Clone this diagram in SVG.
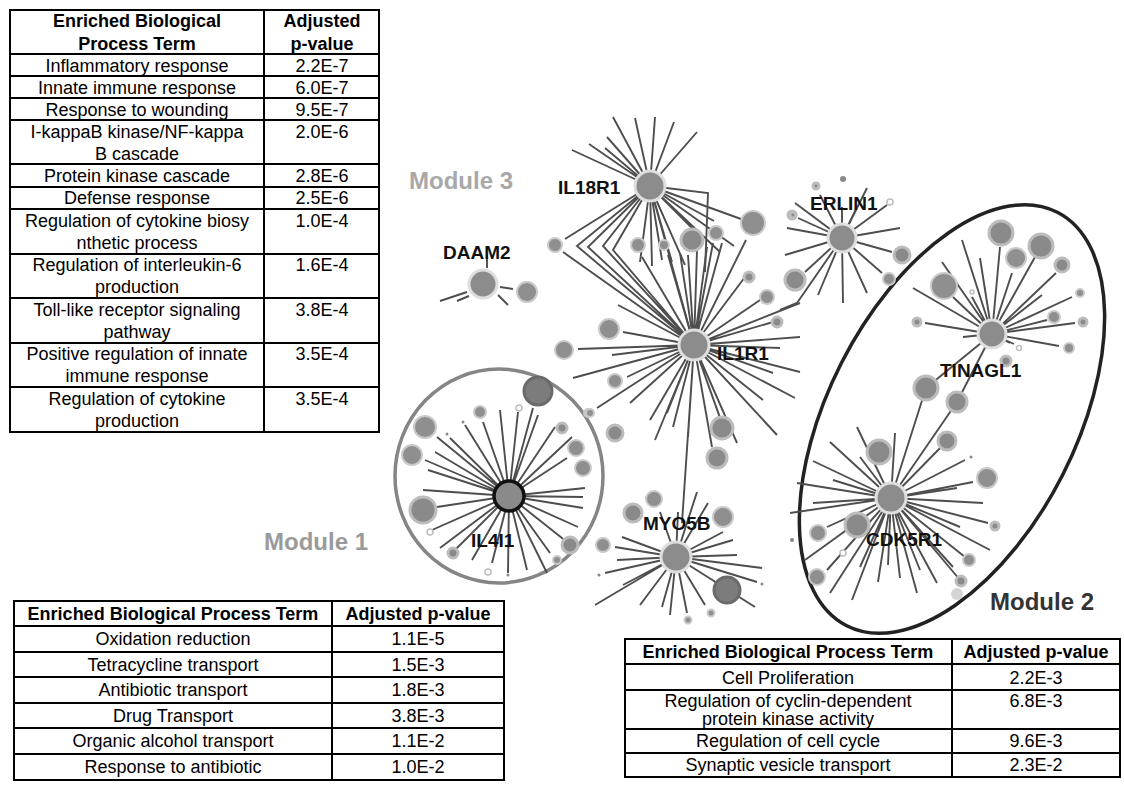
<svg xmlns="http://www.w3.org/2000/svg" width="1124" height="795" viewBox="0 0 1124 795">
<style>
.t{font-family:"Liberation Sans",Arial,sans-serif;font-size:18px;text-anchor:middle;fill:#000}
.tb{font-weight:bold}
.tab{fill:none;stroke:#000;stroke-width:2}
.e{fill:none;stroke:#4e4e4e;stroke-width:1.9}
.hub{fill:#8c8c8c;stroke:#dedede;stroke-width:3}
.s{fill:#8f8f8f;stroke:#cacaca;stroke-width:2}
.s2{fill:#8a8a8a;stroke:#bcbcbc;stroke-width:3}
.sd{fill:#7c7c7c;stroke:#6a6a6a;stroke-width:3}
.ho{fill:#fff;stroke:#bdbdbd;stroke-width:1.5}
.dt{fill:#888}
.lbl{font-family:"Liberation Sans",Arial,sans-serif;font-size:19px;font-weight:bold;fill:#111}
.mod{font-family:"Liberation Sans",Arial,sans-serif;font-size:24px;font-weight:bold}
</style>
<rect width="1124" height="795" fill="#fff"/>

<!-- Table 1 (Module 3) -->
<g id="table-module3">
<rect class="tab" x="10" y="10" width="369" height="422"/>
<path class="tab" d="M264,10V432 M10,54H379 M10,76H379 M10,98H379 M10,120H379 M10,164H379 M10,187H379 M10,209H379 M10,254H379 M10,298H379 M10,343H379 M10,387H379"/>
<text class="t tb" x="137" y="27">Enriched Biological</text>
<text class="t tb" x="137" y="50">Process Term</text>
<text class="t tb" x="322" y="27">Adjusted</text>
<text class="t tb" x="322" y="50">p-value</text>
<text class="t" x="137" y="72">Inflammatory response</text><text class="t" x="322" y="72">2.2E-7</text>
<text class="t" x="137" y="94">Innate immune response</text><text class="t" x="322" y="94">6.0E-7</text>
<text class="t" x="137" y="116">Response to wounding</text><text class="t" x="322" y="116">9.5E-7</text>
<text class="t" x="137" y="138">I-kappaB kinase/NF-kappa</text><text class="t" x="137" y="160">B cascade</text><text class="t" x="322" y="138">2.0E-6</text>
<text class="t" x="137" y="182">Protein kinase cascade</text><text class="t" x="322" y="182">2.8E-6</text>
<text class="t" x="137" y="204">Defense response</text><text class="t" x="322" y="204">2.5E-6</text>
<text class="t" x="137" y="227">Regulation of cytokine biosy</text><text class="t" x="137" y="249">nthetic process</text><text class="t" x="322" y="227">1.0E-4</text>
<text class="t" x="137" y="271">Regulation of interleukin-6</text><text class="t" x="137" y="293">production</text><text class="t" x="322" y="271">1.6E-4</text>
<text class="t" x="137" y="316">Toll-like receptor signaling</text><text class="t" x="137" y="338">pathway</text><text class="t" x="322" y="316">3.8E-4</text>
<text class="t" x="137" y="360">Positive regulation of innate</text><text class="t" x="137" y="382">immune response</text><text class="t" x="322" y="360">3.5E-4</text>
<text class="t" x="137" y="405">Regulation of cytokine</text><text class="t" x="137" y="427">production</text><text class="t" x="322" y="405">3.5E-4</text>
</g>

<!-- Table 2 (Module 1) -->
<g id="table-module1">
<rect class="tab" x="14" y="601" width="490" height="179"/>
<path class="tab" d="M332,601V780 M14,626H504 M14,652H504 M14,677H504 M14,703H504 M14,728H504 M14,754H504"/>
<text class="t tb" x="173" y="620">Enriched Biological Process Term</text><text class="t tb" x="418" y="620">Adjusted p-value</text>
<text class="t" x="173" y="645">Oxidation reduction</text><text class="t" x="418" y="645">1.1E-5</text>
<text class="t" x="173" y="671">Tetracycline transport</text><text class="t" x="418" y="671">1.5E-3</text>
<text class="t" x="173" y="696">Antibiotic transport</text><text class="t" x="418" y="696">1.8E-3</text>
<text class="t" x="173" y="722">Drug Transport</text><text class="t" x="418" y="722">3.8E-3</text>
<text class="t" x="173" y="747">Organic alcohol transport</text><text class="t" x="418" y="747">1.1E-2</text>
<text class="t" x="173" y="773">Response to antibiotic</text><text class="t" x="418" y="773">1.0E-2</text>
</g>

<!-- Table 3 (Module 2) -->
<g id="table-module2">
<rect class="tab" x="625" y="639" width="495" height="138"/>
<path class="tab" d="M952,639V777 M625,664H1120 M625,690H1120 M625,729H1120 M625,753H1120"/>
<text class="t tb" x="788" y="658">Enriched Biological Process Term</text><text class="t tb" x="1036" y="658">Adjusted p-value</text>
<text class="t" x="788" y="684">Cell Proliferation</text><text class="t" x="1036" y="684">2.2E-3</text>
<text class="t" x="788" y="707">Regulation of cyclin-dependent</text><text class="t" x="788" y="725">protein kinase activity</text><text class="t" x="1036" y="707">6.8E-3</text>
<text class="t" x="788" y="747">Regulation of cell cycle</text><text class="t" x="1036" y="747">9.6E-3</text>
<text class="t" x="788" y="771">Synaptic vesicle transport</text><text class="t" x="1036" y="771">2.3E-2</text>
</g>

<!-- Module outlines -->
<g id="module1-outline"><ellipse cx="499" cy="476" rx="104" ry="107" fill="none" stroke="#858585" stroke-width="3.5"/></g>
<g id="module2-outline"><ellipse cx="0" cy="0" rx="232" ry="124" transform="translate(952,419) rotate(-63)" fill="none" stroke="#222" stroke-width="3.5"/></g>

<!-- Connectors -->
<g id="connectors">
<path class="e" d="M650,186L613,117M650,186L635,118M650,186L655,117M650,186L674,122M650,186L697,132M650,186L607,137M650,186L589,144M650,186L572,150M650,186L605,148
M650,186L708,193L705,272M650,186L741,219M650,186L714,221M650,186L700,236M650,186L565,239
M650,186L577,246L694,345M650,186L588,247L694,345M650,186L603,246L694,345M650,186L613,250L694,345M563,252L694,345
M650,186L640,262M650,186L652,266M650,186L662,260M650,186L672,262M650,186L685,265M650,186L720,252M650,186L734,246M650,186L694,345"/>
<path class="e" d="M694,345L578,349M694,345L612,355M694,345L623,332M694,345L618,305M694,345L573,378M694,345L627,377M694,345L597,408M694,345L630,403M694,345L650,420M694,345L667,413M694,345L655,440M694,345L673,427M694,345L688,437M694,345L682,523M694,345L712,447M694,345L720,418M694,345L727,437M694,345L737,443M694,345L777,435M694,345L763,400M694,345L795,398M694,345L773,373M694,345L800,372M694,345L780,348M694,345L800,337M694,345L773,322M694,345L763,298M694,345L745,277M694,345L800,303M694,345L697,250M694,345L707,247M694,345L713,243M694,345L722,243M694,345L746,240M694,345L688,255M694,345L680,253M694,345L668,255M694,345L642,257"/>
<path class="e" d="M440,301L467,292M457,301L469,296M500,287L513,289M498,295L508,305M487,255L487,268"/>
<path class="e" d="M842,238L842,207M842,238L820,195M842,238L795,203M842,238L798,218M842,238L787,228M842,238L785,255M842,238L805,272M842,238L797,303L780,310M842,238L818,295M842,238L843,303M842,238L867,293M842,238L882,273M842,238L892,252M842,238L900,228M842,238L887,205M842,238L867,188M842,238L857,207"/>
<path class="e" d="M992,334L1000,247M992,334L1012,273M992,334L1035,257M992,334L1056,273M992,334L1042,295M992,334L1072,297M992,334L1047,320M992,334L1075,323M992,334L1059,346M992,334L1010,343M992,334L962,240M992,334L980,258M992,334L942,262M992,334L913,288M992,334L925,323M992,334L963,337M992,334L972,297M992,334L953,297M992,334L1014,344M992,334L926,388M992,334L957,402M926,388L891,498M957,402L891,498M947,441L891,498"/>
<path class="e" d="M891,498L857,427M891,498L830,442M891,498L813,461M891,498L797,483M891,498L813,503M891,498L790,513M891,498L827,527M891,498L805,560M891,498L827,570M891,498L830,593M891,498L852,600M891,498L860,567M891,498L878,582M891,498L888,565M891,498L900,578M891,498L917,593M891,498L920,570M891,498L937,583M891,498L960,580M891,498L953,567M891,498L965,557M891,498L990,550M891,498L960,527M891,498L988,523M891,498L983,503M891,498L957,488M891,498L973,482M891,498L965,460M891,498L895,433M891,498L860,457M891,498L833,480"/>
<path class="e" d="M509,496L500,410M509,496L518,412M509,496L533,408M509,496L538,415M509,496L555,427M509,496L572,437M509,496L567,458M509,496L585,488M509,496L583,497M509,496L583,508M509,496L578,527M509,496L567,542M509,496L550,553M509,496L547,573M509,496L527,570M509,496L508,573M509,496L492,563M509,496L472,560M509,496L440,548M509,496L432,530M509,496L437,507M509,496L423,490M509,496L428,470M509,496L425,460M509,496L435,452M509,496L437,437M509,496L450,438M509,496L465,425M509,496L483,422M509,496L463,542M509,496L455,550"/>
<path class="e" d="M676,557L697,492M676,557L708,503M676,557L678,512M676,557L660,512M676,557L622,537M676,557L615,547M676,557L617,560M676,557L605,573M676,557L623,585M676,557L595,605M676,557L640,605M676,557L662,607M676,557L670,615M676,557L687,613M676,557L705,605M676,557L755,607M676,557L757,582M676,557L762,568M676,557L737,555M676,557L733,540M676,557L723,532"/>
</g>

<!-- Satellite nodes -->
<g id="satellites">
<circle class="s" cx="555" cy="245" r="7"/>
<circle class="s" cx="638" cy="245" r="7"/>
<circle class="s" cx="664" cy="245" r="5"/>
<circle class="s2" cx="692" cy="240" r="11"/>
<circle class="s" cx="716" cy="233" r="7"/>
<circle class="s" cx="753" cy="223" r="12"/>
<circle class="s2" cx="792" cy="215" r="4"/>
<circle class="s2" cx="749" cy="277" r="5"/>
<circle class="s" cx="767" cy="297" r="7"/>
<circle class="s2" cx="777" cy="322" r="5"/>
<circle class="s2" cx="795" cy="280" r="10"/>
<circle class="s" cx="609" cy="329" r="10"/>
<circle class="s" cx="564" cy="350" r="9"/>
<circle class="s" cx="615" cy="381" r="7"/>
<circle class="s2" cx="615" cy="433" r="8"/>
<circle class="s2" cx="722" cy="428" r="11"/>
<circle class="s2" cx="717" cy="458" r="10"/>
<circle class="s" cx="588" cy="413" r="4"/>
<circle class="s" cx="527" cy="292" r="10"/>
<circle class="s2" cx="816" cy="186" r="3"/>
<circle class="dt" cx="843" cy="179" r="3"/>
<circle class="s2" cx="793" cy="215" r="3"/>
<circle class="ho" cx="890" cy="202" r="3"/>
<circle class="s" cx="889" cy="279" r="6"/>
<circle class="s2" cx="902" cy="255" r="8"/>
<circle class="s2" cx="1001" cy="233" r="12"/>
<circle class="s" cx="1016" cy="258" r="10"/>
<circle class="s2" cx="1041" cy="246" r="12"/>
<circle class="s2" cx="1062" cy="265" r="7"/>
<circle class="s" cx="1080" cy="293" r="4"/>
<circle class="s" cx="1054" cy="317" r="6"/>
<circle class="s2" cx="1083" cy="322" r="4"/>
<circle class="s" cx="1069" cy="348" r="5"/>
<circle class="ho" cx="1019" cy="348" r="2.5"/>
<circle class="s2" cx="1006" cy="361" r="5"/>
<circle class="s" cx="944" cy="286" r="13"/>
<circle class="s2" cx="917" cy="322" r="4"/>
<circle class="ho" cx="972" cy="292" r="2"/>
<circle class="s2" cx="926" cy="388" r="12"/>
<circle class="s2" cx="957" cy="402" r="10"/>
<circle class="s2" cx="947" cy="441" r="9"/>
<circle class="s2" cx="879" cy="452" r="12"/>
<circle class="s2" cx="857" cy="525" r="12"/>
<circle class="s" cx="818" cy="533" r="8"/>
<circle class="s" cx="817" cy="577" r="8"/>
<circle class="s" cx="987" cy="478" r="10"/>
<circle class="s2" cx="995" cy="526" r="4"/>
<circle class="s" cx="969" cy="560" r="6"/>
<circle class="s2" cx="961" cy="581" r="5"/>
<circle cx="957" cy="594" r="6" fill="#d4d4d4"/>
<circle class="dt" cx="792" cy="540" r="2"/>
<circle class="ho" cx="843" cy="553" r="3"/>
<circle class="dt" cx="971" cy="457" r="1.5"/>
<circle class="sd" cx="538" cy="391" r="14"/>
<circle class="s" cx="480" cy="412" r="6"/>
<circle class="s" cx="425" cy="427" r="11"/>
<circle class="s" cx="412" cy="455" r="10"/>
<circle class="s2" cx="423" cy="510" r="13"/>
<circle class="ho" cx="430" cy="532" r="3"/>
<circle class="s2" cx="453" cy="553" r="5"/>
<circle class="ho" cx="488" cy="572" r="3"/>
<circle class="dt" cx="508" cy="575" r="1.5"/>
<circle class="s" cx="557" cy="560" r="4"/>
<circle class="s2" cx="570" cy="545" r="8"/>
<circle class="s" cx="583" cy="468" r="8"/>
<circle class="s" cx="576" cy="448" r="8"/>
<circle class="s2" cx="562" cy="428" r="5"/>
<circle class="ho" cx="519" cy="408" r="3"/>
<circle class="dt" cx="463" cy="422" r="1.5"/>
<circle class="dt" cx="447" cy="434" r="1.5"/>
<circle class="s" cx="590" cy="413" r="4"/>
<circle class="s" cx="654" cy="499" r="8"/>
<circle class="s2" cx="633" cy="513" r="9"/>
<circle class="s" cx="723" cy="517" r="10"/>
<circle class="s" cx="603" cy="545" r="7"/>
<circle class="dt" cx="599" cy="575" r="1.5"/>
<circle class="dt" cx="762" cy="584" r="1.5"/>
<circle class="s" cx="711" cy="613" r="3.5"/>
<circle class="s" cx="688" cy="620" r="3.5"/>
<circle class="sd" cx="727" cy="590" r="13"/>
</g>

<!-- Hub nodes -->
<g id="node-IL18R1"><circle class="hub" cx="650" cy="186" r="15"/><text class="lbl" x="558" y="194">IL18R1</text></g>
<g id="node-IL1R1"><circle class="hub" cx="694" cy="345" r="15"/><text class="lbl" x="717" y="360">IL1R1</text></g>
<g id="node-DAAM2"><circle class="hub" cx="483" cy="284" r="14" stroke="#c8c8c8" stroke-width="4"/><text class="lbl" x="443" y="259">DAAM2</text></g>
<g id="node-ERLIN1"><circle class="hub" cx="842" cy="238" r="14"/><text class="lbl" x="810" y="210">ERLIN1</text></g>
<g id="node-TINAGL1"><circle class="hub" cx="992" cy="334" r="14"/><text class="lbl" x="940" y="377">TINAGL1</text></g>
<g id="node-CDK5R1"><circle class="hub" cx="891" cy="498" r="15"/><text class="lbl" x="866" y="546">CDK5R1</text></g>
<g id="node-IL4I1"><circle cx="509" cy="496" r="15" fill="#8a8a8a" stroke="#111" stroke-width="3.5"/><text class="lbl" x="471" y="547">IL4I1</text></g>
<g id="node-MYO5B"><circle class="hub" cx="676" cy="557" r="15"/><text class="lbl" x="643" y="530">MYO5B</text></g>

<!-- Module labels -->
<g id="module-labels">
<text class="mod" x="409" y="189" fill="#a8a8a8">Module 3</text>
<text class="mod" x="264" y="550" fill="#9a9a9a">Module 1</text>
<text class="mod" x="990" y="610" fill="#333">Module 2</text>
</g>
</svg>
